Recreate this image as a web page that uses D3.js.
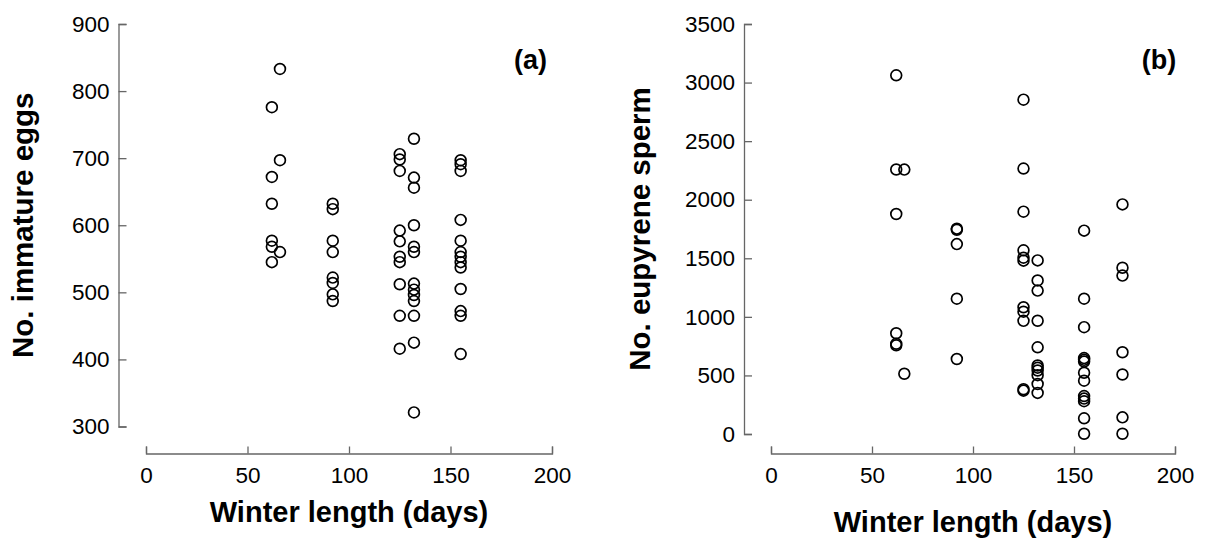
<!DOCTYPE html>
<html>
<head>
<meta charset="utf-8">
<title>Winter length scatter</title>
<script src="https://d3js.org/d3.v7.min.js"></script>
<style>
  body { margin: 0; background: #fff; }
  svg { font-family: "Liberation Sans", Arial, sans-serif; }
</style>
</head>
<body>
<script>
// panel (a): immature eggs
var eggDays = [62, 62, 62, 62, 62, 62,
               66, 66, 66,
               92, 92, 92, 92, 92, 92, 92, 92,
               125, 125, 125, 125, 125, 125, 125, 125, 125, 125,
               132, 132, 132, 132, 132, 132, 132, 132, 132, 132, 132, 132, 132,
               155, 155, 155, 155, 155, 155, 155, 155, 155, 155, 155, 155, 155];
var eggCount = [776, 672, 632, 577, 568, 545,
                833, 697, 560,
                632, 624, 577, 560, 522, 514, 497, 487,
                706, 698, 681, 592, 576, 553, 545, 512, 465, 416,
                729, 671, 656, 600, 568, 560, 513, 504, 496, 487, 465, 425, 321,
                697, 691, 681, 608, 577, 560, 553, 545, 537, 505, 472, 465, 408];

// panel (b): eupyrene sperm
var spermDays = [62, 62, 62, 62, 62, 62,
                 66, 66,
                 92, 92, 92, 92, 92,
                 125, 125, 125, 125, 125, 125, 125, 125, 125, 125, 125,
                 132, 132, 132, 132, 132, 132, 132, 132, 132, 132, 132,
                 155, 155, 155, 155, 155, 155, 155, 155, 155, 155, 155, 155, 155,
                 174, 174, 174, 174, 174, 174, 174];
var spermCount = [3062, 2258, 1878, 860, 770, 757,
                  2257, 514,
                  1753, 1743, 1621, 1155, 640,
                  2854, 2266, 1898, 1568, 1505, 1480, 1082, 1044, 966, 382, 370,
                  1482, 1311, 1224, 967, 740, 585, 566, 542, 502, 427, 351,
                  1736, 1155, 912, 648, 633, 618, 523, 455, 324, 302, 280, 134, 2,
                  1960, 1419, 1352, 698, 508, 142, 2];

var xTicks = [0, 50, 100, 150, 200];
var eggTicks = [300, 400, 500, 600, 700, 800, 900];
var spermTicks = [0, 500, 1000, 1500, 2000, 2500, 3000, 3500];

var svg = d3.select("body").append("svg")
    .attr("width", 1205)
    .attr("height", 539);

function panel(opt) {
    var x = d3.scaleLinear().domain([0, 200]).range(opt.xRange);
    var y = d3.scaleLinear().domain(opt.yDomain).range(opt.yRange);

    var yAxis = d3.axisLeft(y).tickValues(opt.yTicks).tickFormat(d3.format("d"))
        .tickSize(-8).tickPadding(9);
    var xAxis = d3.axisBottom(x).tickValues(xTicks).tickFormat(d3.format("d"))
        .tickSize(-7).tickPadding(14);

    var gy = svg.append("g")
        .attr("transform", "translate(" + opt.yAxisX + ",0)")
        .call(yAxis);
    var gx = svg.append("g")
        .attr("transform", "translate(0," + opt.xAxisY + ")")
        .call(xAxis);

    [gx, gy].forEach(function(g) {
        g.selectAll("path, line").attr("stroke", "#666").attr("stroke-width", 1.3);
        g.selectAll("text").attr("fill", "#000").style("font-size", "22.5px");
    });

    svg.append("g").selectAll("circle")
        .data(opt.xs)
        .enter()
        .append("circle")
        .attr("cx", function(d) { return x(d); })
        .attr("cy", function(d, i) { return y(opt.ys[i]); })
        .attr("r", 5.4)
        .attr("fill", "none")
        .attr("stroke", "#000")
        .attr("stroke-width", 1.7);

    svg.append("text")
        .attr("x", (opt.xRange[0] + opt.xRange[1]) / 2)
        .attr("y", opt.xTitleY)
        .attr("text-anchor", "middle")
        .style("font-size", "29px")
        .style("font-weight", "bold")
        .text("Winter length (days)");

    svg.append("text")
        .attr("transform", "translate(" + opt.yTitleX + "," + (opt.yRange[0] + opt.yRange[1]) / 2 + ") rotate(-90)")
        .attr("text-anchor", "middle")
        .style("font-size", "29.5px")
        .style("font-weight", "bold")
        .text(opt.yTitle);

    svg.append("text")
        .attr("x", opt.tag[0])
        .attr("y", opt.tag[1])
        .attr("text-anchor", "middle")
        .style("font-size", "27px")
        .style("font-weight", "bold")
        .text(opt.tagText);
}

panel({
    xs: eggDays, ys: eggCount,
    xRange: [146, 552], yDomain: [300, 900], yRange: [426.5, 24],
    yTicks: eggTicks, yAxisX: 118.5, xAxisY: 453.5,
    xTitleY: 522, yTitleX: 33, yTitle: "No. immature eggs",
    tag: [530.5, 69], tagText: "(a)"
});

panel({
    xs: spermDays, ys: spermCount,
    xRange: [771, 1175], yDomain: [0, 3500], yRange: [434, 24],
    yTicks: spermTicks, yAxisX: 744, xAxisY: 453.5,
    xTitleY: 532, yTitleX: 650, yTitle: "No. eupyrene sperm",
    tag: [1159, 69], tagText: "(b)"
});
</script>
</body>
</html>
